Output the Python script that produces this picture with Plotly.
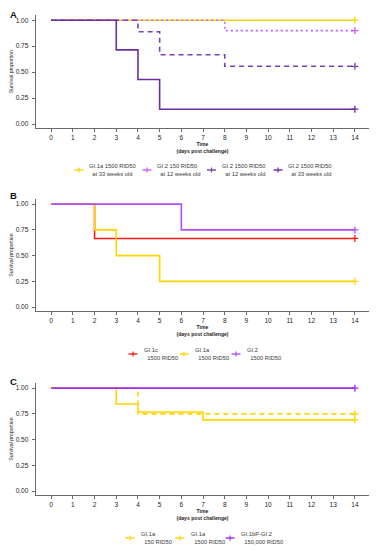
import plotly.graph_objects as go

# ---------------- data ----------------
days = list(range(15))
y_tick_vals = [0, 0.25, 0.5, 0.75, 1.0]
y_tick_text = ["0.00", "0.25", "0.50", "0.75", "1.00"]

NB = "\u00a0"

# Panel A
a_names = ["GI.1a 1500 RID50<br>" + NB * 2 + "at 33 weeks old",
           "GI.2 150 RID50<br>" + NB * 2 + "at 12 weeks old",
           "GI.2 1500 RID50<br>" + NB * 2 + "at 12 weeks old",
           "GI.2 1500 RID50<br>" + NB * 2 + "at 33 weeks old"]
a_times = [[0, 14], [0, 8, 14], [0, 4, 5, 8, 14], [0, 3, 4, 5, 14]]
a_surv = [[1.0, 1.0], [1.0, 0.9, 0.9], [1.0, 0.889, 0.667, 0.556, 0.556],
          [1.0, 0.714, 0.429, 0.143, 0.143]]
a_colors = ["#FFD500", "#C65CFF", "#7B3FB8", "#6B2DA3"]
a_dash = ["solid", "2px,3px", "5px,4px", "solid"]

# Panel B
b_names = ["GI.1c<br>" + NB * 2 + "1500 RID50",
           "GI.1a<br>" + NB * 2 + "1500 RID50",
           "GI.2<br>" + NB * 2 + "1500 RID50"]
b_times = [[0, 2, 14], [0, 2, 3, 5, 14], [0, 6, 14]]
b_surv = [[1.0, 0.667, 0.667], [1.0, 0.75, 0.5, 0.25, 0.25], [1.0, 0.75, 0.75]]
b_colors = ["#FF1A1A", "#FFD500", "#B24DFF"]
b_dash = ["solid", "solid", "solid"]

# Panel C
c_names = ["GI.1a<br>" + NB * 2 + "150 RID50",
           "GI.1a<br>" + NB * 2 + "1500 RID50",
           "GI.1bP-GI.2<br>" + NB * 2 + "150,000 RID50"]
c_times = [[0, 4, 14], [0, 3, 4, 7, 14], [0, 14]]
c_surv = [[1.0, 0.75, 0.75], [1.0, 0.846, 0.769, 0.692, 0.692], [1.0, 1.0]]
c_colors = ["#FFD500", "#FFD500", "#A22CF0"]
c_dash = ["5px,4px", "solid", "solid"]

panels = [
    ("A", a_names, a_times, a_surv, a_colors, a_dash),
    ("B", b_names, b_times, b_surv, b_colors, b_dash),
    ("C", c_names, c_times, c_surv, c_colors, c_dash),
]

# ---------------- layout (pixels inside the figure) ----------------
W, H = 373, 542
px_domains = [(7, 120), (191, 303), (375, 487)]
letter_y = [0, 180.5, 366.5]
legend_icon_x = [[71, 139, 203.5, 270], [125, 176, 228], [122, 172, 222]]
legend_text_dx = [9, 10, 10]
legend_y = [162, 346, 530]


def px(xp):
    return xp / W


def py(yp):
    return 1 - yp / H


fig = go.Figure()
layout = {}
annotations = []
shapes = []
axis_col = "#6a6a6a"
font_fam = "Liberation Sans"

for i, (letter, names, times, surv, colors, dashes) in enumerate(panels):
    sfx = "" if i == 0 else str(i + 1)
    xa, ya = "x" + sfx, "y" + sfx
    for n, t, s, c, d in zip(names, times, surv, colors, dashes):
        fig.add_trace(go.Scatter(x=t, y=s, mode="lines", line=dict(color=c, width=1.6, dash=d, shape="hv"),
                                 xaxis=xa, yaxis=ya, showlegend=False, hoverinfo="skip", name=n))
        fig.add_trace(go.Scatter(x=[t[-1]], y=[s[-1]], mode="markers",
                                 marker=dict(symbol="cross-thin", size=5, line=dict(color=c, width=1.3)),
                                 xaxis=xa, yaxis=ya, showlegend=False, hoverinfo="skip"))
    top, bot = px_domains[i]
    layout["xaxis" + sfx] = dict(
        domain=[px(28), px(361)], range=[-0.7, 14.65], anchor=ya,
        tickvals=days, ticktext=[str(d) for d in days],
        showline=True, linecolor=axis_col, linewidth=1.4, ticks="outside", ticklen=3,
        tickcolor=axis_col, tickwidth=1, showgrid=False, zeroline=False,
        tickfont=dict(size=6.6, color="#262626", family=font_fam),
        title=dict(text="<b>Time</b><br><b>(days post challenge)</b>",
                   font=dict(size=5.1, color="#222", family=font_fam), standoff=1),
    )
    layout["yaxis" + sfx] = dict(
        domain=[py(bot), py(top)], range=[-0.038, 1.05], anchor=xa,
        tickvals=y_tick_vals, ticktext=y_tick_text,
        showline=True, linecolor=axis_col, linewidth=1.4, ticks="outside", ticklen=3,
        tickcolor=axis_col, tickwidth=1, showgrid=False, zeroline=False, ticklabelstandoff=2,
        tickfont=dict(size=6.6, color="#262626", family=font_fam),
        title=dict(text="Survival proportion", font=dict(size=5.2, color="#222", family=font_fam),
                   standoff=1),
    )
    annotations.append(dict(text="<b>" + letter + "</b>", x=px(5), y=py(letter_y[i]),
                            xref="paper", yref="paper", showarrow=False, xanchor="center", yanchor="top",
                            borderpad=0, font=dict(size=9.5, color="#111", family=font_fam)))
    # legend (icon line + censor cross + label)
    for j, (n, c) in enumerate(zip(names, colors)):
        cx = legend_icon_x[i][j]
        cy = legend_y[i]
        shapes.append(dict(type="line", xref="paper", yref="paper", x0=px(cx - 4.5), x1=px(cx + 4.5),
                           y0=py(cy), y1=py(cy), line=dict(color=c, width=1.4)))
        shapes.append(dict(type="line", xref="paper", yref="paper", x0=px(cx), x1=px(cx),
                           y0=py(cy - 2.5), y1=py(cy + 2.5), line=dict(color=c, width=1.2)))
        annotations.append(dict(text=n, x=px(cx + legend_text_dx[i]), y=py(cy), xref="paper", yref="paper",
                                showarrow=False, xanchor="left", yanchor="middle", align="left",
                                borderpad=0, font=dict(size=5.8, color="#3a3a3a", family=font_fam)))

fig.update_layout(width=W, height=H, margin=dict(l=0, r=0, t=0, b=0),
                  paper_bgcolor="white", plot_bgcolor="white", showlegend=False,
                  annotations=annotations, shapes=shapes, **layout)

fig.write_html("out.html")
